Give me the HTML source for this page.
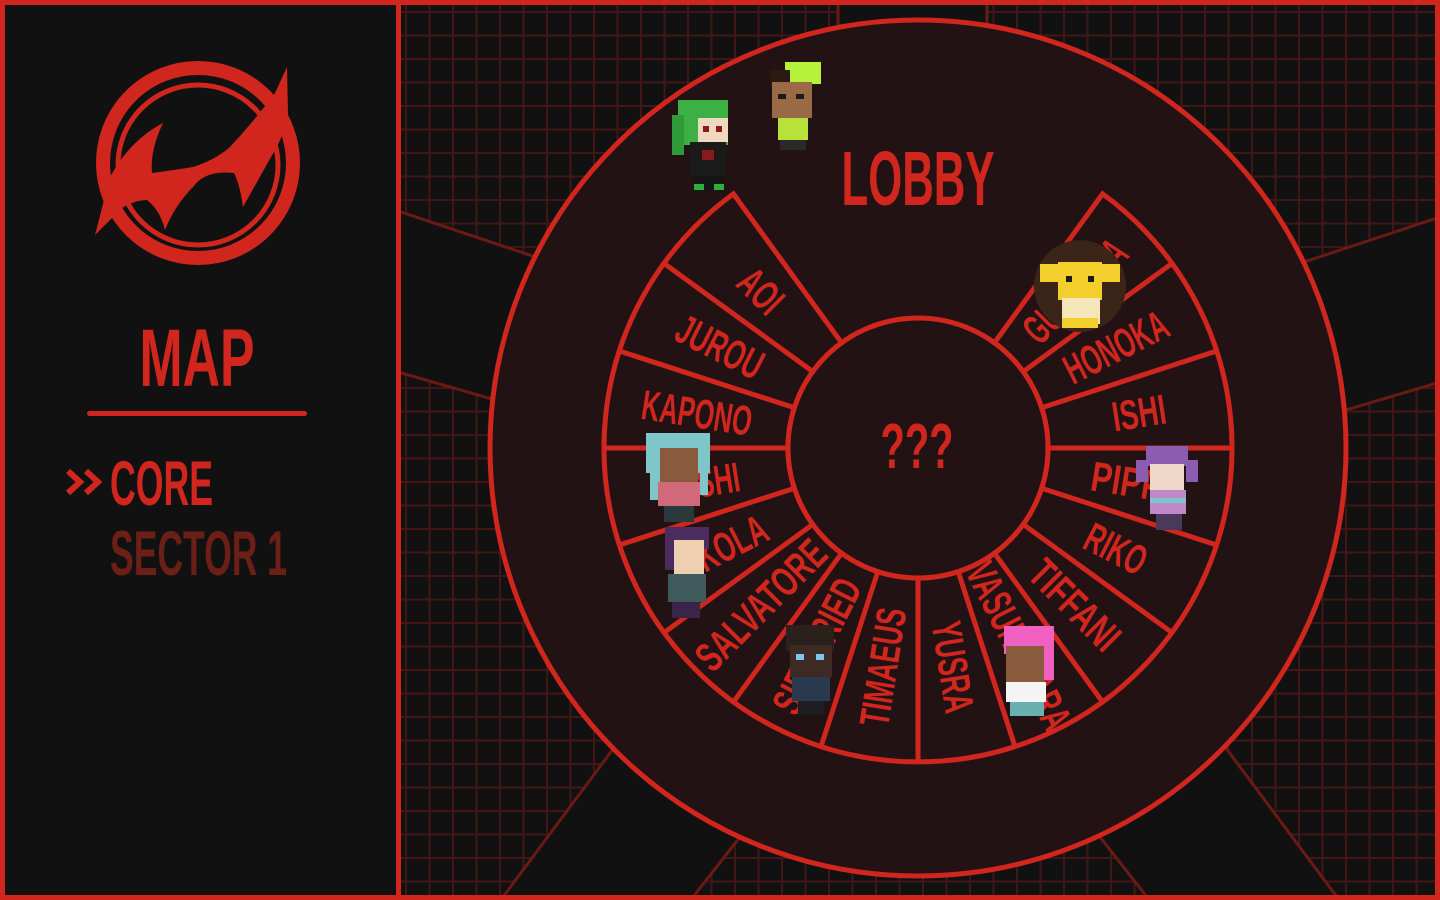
<!DOCTYPE html>
<html><head><meta charset="utf-8"><style>
html,body{margin:0;padding:0;background:#111;}
svg{display:block}
text{font-family:"Liberation Sans Narrow","Liberation Sans",sans-serif;fill:#d0261e;font-weight:bold;}
</style></head><body>
<svg width="1440" height="900" viewBox="0 0 1440 900" xmlns="http://www.w3.org/2000/svg">
<defs>
<pattern id="grid" x="405" y="11" width="23.5" height="23.5" patternUnits="userSpaceOnUse">
<rect x="0" y="0" width="23.5" height="2" fill="#421616"/>
<rect x="0" y="0" width="2" height="23.5" fill="#421616"/>
</pattern>
</defs>
<rect width="1440" height="900" fill="#111"/>
<rect x="400" y="5" width="1035" height="890" fill="url(#grid)"/>
<g fill="#111">
<polygon points="398,211 700,312 700,459 398,372"/>
<polygon points="1437,218 1150,313 1150,468 1437,383"/>
<polygon points="503,897 648,702 780,786 693,897"/>
<polygon points="1337,897 1190,700 1060,786 1147,897"/>
<rect x="838" y="5" width="149" height="120"/>
</g>
<g stroke="#6a1a14" stroke-width="3" fill="none">
<line x1="398" y1="211" x2="700" y2="312"/>
<line x1="398" y1="372" x2="700" y2="459"/>
<line x1="1437" y1="218" x2="1150" y2="313"/>
<line x1="1437" y1="383" x2="1150" y2="468"/>
<line x1="503" y1="897" x2="648" y2="702"/>
<line x1="693" y1="897" x2="780" y2="786"/>
<line x1="1337" y1="897" x2="1190" y2="700"/>
<line x1="1147" y1="897" x2="1060" y2="786"/>
<line x1="838" y1="5" x2="838" y2="120"/>
<line x1="987" y1="5" x2="987" y2="120"/>
</g>
<circle cx="918" cy="448" r="428" fill="#231213" stroke="#d0261e" stroke-width="5"/>
<path d="M733.4,193.9 A314,314 0 1 0 1102.6,193.9 L994.4,342.8 A130,130 0 1 1 841.6,342.8 Z" fill="#231213" stroke="#d0261e" stroke-width="5" stroke-linejoin="miter"/>
<circle cx="918" cy="448" r="130" fill="#231213" stroke="#d0261e" stroke-width="5"/>
<g stroke="#d0261e" stroke-width="5">
<line x1="812.8" y1="371.6" x2="664" y2="263.4"/>
<line x1="794.4" y1="407.8" x2="619.4" y2="351"/>
<line x1="788" y1="448" x2="604" y2="448"/>
<line x1="794.4" y1="488.2" x2="619.4" y2="545"/>
<line x1="812.8" y1="524.4" x2="664" y2="632.6"/>
<line x1="841.6" y1="553.2" x2="733.4" y2="702"/>
<line x1="877.8" y1="571.6" x2="821" y2="746.6"/>
<line x1="918" y1="578" x2="918" y2="762"/>
<line x1="958.2" y1="571.6" x2="1015" y2="746.6"/>
<line x1="994.4" y1="553.2" x2="1102.6" y2="702"/>
<line x1="1023.2" y1="524.4" x2="1172" y2="632.6"/>
<line x1="1041.6" y1="488.2" x2="1216.6" y2="545"/>
<line x1="1048" y1="448" x2="1232" y2="448"/>
<line x1="1041.6" y1="407.8" x2="1216.6" y2="351"/>
<line x1="1023.2" y1="371.6" x2="1172" y2="263.4"/>
</g>
<g font-size="42" dominant-baseline="central" text-anchor="middle">
<text transform="translate(761,291) rotate(45)" textLength="46" lengthAdjust="spacingAndGlyphs">AOI</text>
<text transform="translate(720,347) rotate(27)" textLength="92" lengthAdjust="spacingAndGlyphs">JUROU</text>
<text transform="translate(697,413) rotate(9)" textLength="111" lengthAdjust="spacingAndGlyphs">KAPONO</text>
<text transform="translate(699,483) rotate(-9)" textLength="82" lengthAdjust="spacingAndGlyphs">KOSHI</text>
<text transform="translate(720,549) rotate(-27)" textLength="101" lengthAdjust="spacingAndGlyphs">NIKOLA</text>
<text transform="translate(761,605) rotate(-45)" textLength="166" lengthAdjust="spacingAndGlyphs">SALVATORE</text>
<text transform="translate(817,646) rotate(-63)" textLength="146" lengthAdjust="spacingAndGlyphs">SIEGFRIED</text>
<text transform="translate(883,667) rotate(-81)" textLength="119" lengthAdjust="spacingAndGlyphs">TIMAEUS</text>
<text transform="translate(953,667) rotate(81)" textLength="92" lengthAdjust="spacingAndGlyphs">YUSRA</text>
<text transform="translate(1019,646) rotate(63)" textLength="182" lengthAdjust="spacingAndGlyphs">VASUNDHARA</text>
<text transform="translate(1075,605) rotate(45)" textLength="110" lengthAdjust="spacingAndGlyphs">TIFFANI</text>
<text transform="translate(1116,549) rotate(27)" textLength="64" lengthAdjust="spacingAndGlyphs">RIKO</text>
<text transform="translate(1137,483) rotate(9)" textLength="92" lengthAdjust="spacingAndGlyphs">PIPPA</text>
<text transform="translate(1139,413) rotate(-9)" textLength="54" lengthAdjust="spacingAndGlyphs">ISHI</text>
<text transform="translate(1116,347) rotate(-27)" textLength="111" lengthAdjust="spacingAndGlyphs">HONOKA</text>
<text transform="translate(1075,291) rotate(-45)" textLength="128" lengthAdjust="spacingAndGlyphs">GUNHILDA</text>
</g>
<text x="918" y="205" font-size="77" text-anchor="middle" textLength="153" lengthAdjust="spacingAndGlyphs">LOBBY</text>
<text x="917" y="468" font-size="64" text-anchor="middle" textLength="73" lengthAdjust="spacingAndGlyphs">???</text>

<g>
<rect x="678" y="100" width="50" height="45" fill="#3cb043"/>
<rect x="672" y="115" width="12" height="40" fill="#2f9a38"/>
<rect x="698" y="118" width="30" height="24" fill="#f0d8c0"/>
<rect x="703" y="126" width="6" height="6" fill="#8a1a1a"/><rect x="716" y="126" width="6" height="6" fill="#8a1a1a"/>
<rect x="690" y="142" width="36" height="34" fill="#1a1a1a"/>
<rect x="702" y="150" width="12" height="10" fill="#8a1a1a"/>
<rect x="694" y="176" width="30" height="14" fill="#151515"/>
<rect x="694" y="184" width="10" height="6" fill="#2bb040"/><rect x="714" y="184" width="10" height="6" fill="#2bb040"/>
<rect x="785" y="62" width="36" height="22" fill="#b6f23a"/>
<rect x="770" y="70" width="20" height="16" fill="#2a1a12"/>
<rect x="772" y="82" width="40" height="36" fill="#9a6a46"/>
<rect x="778" y="94" width="8" height="5" fill="#1a1a1a"/><rect x="796" y="94" width="8" height="5" fill="#1a1a1a"/>
<rect x="778" y="118" width="30" height="22" fill="#b6e23a"/>
<rect x="780" y="140" width="26" height="10" fill="#2a2a2a"/>
<circle cx="1080" cy="286" r="46" fill="#3b2418"/>
<rect x="1040" y="264" width="22" height="18" fill="#f2cf2a"/><rect x="1098" y="264" width="22" height="18" fill="#f2cf2a"/>
<rect x="1058" y="262" width="44" height="38" fill="#f2cf2a"/>
<rect x="1066" y="276" width="6" height="6" fill="#1a1a1a"/><rect x="1088" y="276" width="6" height="6" fill="#1a1a1a"/>
<rect x="1062" y="298" width="38" height="26" fill="#f4e6b8"/>
<rect x="1062" y="318" width="36" height="10" fill="#f2cf2a"/>
<rect x="646" y="433" width="64" height="40" fill="#7fc6c9"/>
<rect x="650" y="470" width="10" height="30" fill="#7fc6c9"/><rect x="700" y="470" width="8" height="25" fill="#7fc6c9"/>
<rect x="660" y="448" width="38" height="34" fill="#8a5a3c"/>
<rect x="658" y="482" width="42" height="24" fill="#d06a7a"/>
<rect x="664" y="506" width="30" height="16" fill="#2a3a3a"/>
<rect x="665" y="527" width="44" height="22" fill="#4a2d5e"/>
<rect x="665" y="540" width="10" height="30" fill="#4a2d5e"/>
<rect x="674" y="540" width="30" height="34" fill="#eed0b0"/>
<rect x="668" y="574" width="38" height="28" fill="#3f5a5a"/>
<rect x="672" y="602" width="28" height="16" fill="#3a2448"/>
<rect x="786" y="625" width="48" height="26" fill="#2a201c"/>
<rect x="790" y="645" width="42" height="32" fill="#3e2a22"/>
<rect x="796" y="654" width="8" height="6" fill="#7ac8f0"/><rect x="816" y="654" width="8" height="6" fill="#7ac8f0"/>
<rect x="792" y="677" width="38" height="24" fill="#2a3a4e"/>
<rect x="798" y="701" width="26" height="14" fill="#1e1e22"/>
<rect x="1004" y="626" width="50" height="28" fill="#f060c0"/>
<rect x="1040" y="640" width="14" height="40" fill="#f060c0"/>
<rect x="1006" y="646" width="38" height="36" fill="#8a5a3c"/>
<rect x="1006" y="682" width="40" height="20" fill="#f4f4f4"/>
<rect x="1010" y="702" width="34" height="14" fill="#6ab0b0"/>
<rect x="1136" y="460" width="12" height="22" fill="#8c5cb0"/><rect x="1186" y="460" width="12" height="22" fill="#8c5cb0"/>
<rect x="1146" y="446" width="42" height="20" fill="#8c5cb0"/>
<rect x="1150" y="464" width="34" height="26" fill="#f0d8c8"/>
<rect x="1150" y="490" width="36" height="24" fill="#c088c8"/>
<rect x="1150" y="498" width="36" height="5" fill="#7fc6c9"/>
<rect x="1156" y="514" width="26" height="16" fill="#4a3a5a"/>
</g>

<rect x="5" y="5" width="391" height="890" fill="#111"/>
<rect x="396" y="0" width="5" height="900" fill="#d0261e"/>
<circle cx="198" cy="163" r="95" fill="none" stroke="#d0261e" stroke-width="14"/>
<circle cx="198" cy="165" r="80" fill="none" stroke="#d0261e" stroke-width="5"/>
<path d="M287,67 L288,113 Q285,135 271,157 L243,207 Q240,185 234,173 Q205,170 193,187 Q175,205 165,230 Q160,210 147,200 Q135,200 122,208 L95,235 L110,177 Q130,140 163,123 Q150,150 152,173 Q175,170 193,167 Q215,160 230,147 Q255,120 275,93 Z" fill="#d0261e"/>
<text x="197" y="386" font-size="82" text-anchor="middle" textLength="115" lengthAdjust="spacingAndGlyphs">MAP</text>
<rect x="87" y="411" width="220" height="5" rx="2.5" fill="#d0261e"/>
<g fill="none" stroke="#d0261e" stroke-width="6" stroke-linejoin="miter">
<polyline points="68,471 80,482 68,493"/>
<polyline points="86,471 98,482 86,493"/>
</g>
<text x="110" y="505" font-size="63" textLength="103" lengthAdjust="spacingAndGlyphs">CORE</text>
<text x="110" y="575" font-size="63" textLength="177" lengthAdjust="spacingAndGlyphs" style="fill:#6b1f17">SECTOR 1</text>
<rect x="2.5" y="2.5" width="1435" height="895" fill="none" stroke="#d0261e" stroke-width="5"/>
</svg>
</body></html>
